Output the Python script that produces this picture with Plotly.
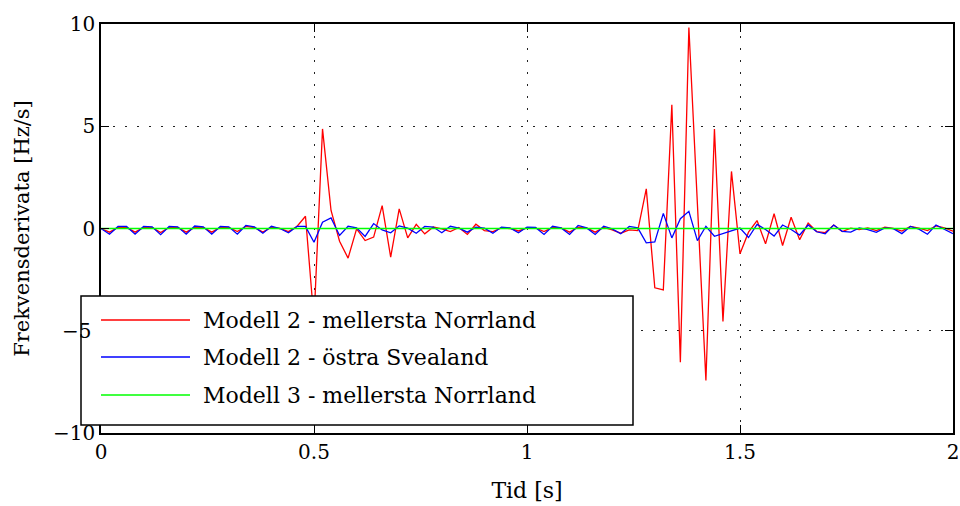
import plotly.graph_objects as go

dt = 0.02
t = [round(k * dt, 2) for k in range(101)]

red = [0, -0.18, 0.05, 0.05, -0.18, 0.05, 0.05, -0.2, 0.05, 0.05,
       -0.18, 0.05, 0.05, -0.18, 0.05, 0.05, -0.15, 0.1, 0.05, -0.18,
       0.07, 0.0, -0.15, 0.1, 0.6, -4.5, 4.87, 0.88, -0.62, -1.45,
       -0.02, -0.59, -0.42, 1.12, -1.4, 0.96, -0.46, 0.2, -0.26, 0.07,
       -0.02, -0.15, 0.05, -0.29, 0.21, -0.1, -0.15, 0.03, 0.0, -0.12,
       0.03, 0.03, -0.15, 0.05, 0.03, -0.18, 0.07, 0.03, -0.18, 0.05,
       -0.07, -0.23, -0.07, -0.1, 1.94, -2.9, -3.0, 6.05, -6.54, 9.83,
       1.2, -7.43, 4.87, -4.55, 2.79, -1.24, -0.18, 0.39, -0.75, 0.72,
       -0.83, 0.55, -0.55, 0.27, -0.15, -0.2, 0.17, -0.15, 0.02, -0.05,
       0.03, -0.1, 0.07, 0.0, -0.13, 0.1, 0.02, -0.1, 0.13, 0.03, -0.13]

blue = [0, -0.28, 0.1, 0.1, -0.28, 0.1, 0.08, -0.3, 0.1, 0.08,
        -0.28, 0.12, 0.08, -0.28, 0.1, 0.08, -0.28, 0.15, 0.08, -0.23,
        0.11, 0.0, -0.21, 0.1, 0.1, -0.67, 0.31, 0.52, -0.34, 0.11,
        0.03, -0.39, 0.24, -0.07, -0.21, 0.13, 0.02, -0.23, 0.1, 0.07,
        -0.21, 0.11, 0.02, -0.18, 0.07, 0.02, -0.23, 0.07, 0.03, -0.21,
        0.07, 0.05, -0.29, 0.11, 0.03, -0.29, 0.15, 0.03, -0.29, 0.11,
        -0.02, -0.26, 0.1, 0.03, -0.7, -0.66, 0.74, -0.46, 0.48, 0.84,
        -0.59, 0.11, -0.38, -0.24, -0.1, 0.02, -0.44, 0.2, -0.05, -0.37,
        0.17, -0.05, -0.32, 0.17, -0.16, -0.26, 0.17, -0.14, -0.18, 0.03,
        -0.05, -0.19, 0.03, -0.01, -0.25, 0.1, -0.03, -0.28, 0.17, -0.02, -0.25]

green = [0.0] * 101

names = ["Modell 2 - mellersta Norrland", "Modell 2 - östra Svealand", "Modell 3 - mellersta Norrland"]
colors = ["#ff0000", "#0000ff", "#00ff00"]
series = [red, blue, green]

x_ticks = [0, 0.5, 1, 1.5, 2]
x_labels = ["0", "0.5", "1", "1.5", "2"]
y_ticks = [-10, -5, 0, 5, 10]
y_labels = ["\u221210", "", "0", "5", "10"]   # -5 label drawn above the legend box below

FONT = "DejaVu Serif"
TICK_SIZE = 20
TEXT_SIZE = 22

fig = go.Figure()
for s, n, c in zip(series, names, colors):
    fig.add_trace(go.Scatter(x=t, y=s, mode="lines", name=n,
                             line=dict(color=c, width=1.3), showlegend=False))

# custom MATLAB-style legend (box overlaps the axes like the original)
W, H = 852.0, 409.0
def px(x):
    return (x - 101) / W
def py(y):
    return (433 - y) / H

shapes = [dict(type="rect", xref="paper", yref="paper",
               x0=px(81), x1=px(633), y0=py(425), y1=py(296),
               fillcolor="white", line=dict(color="black", width=1.5), layer="above")]
annotations = []
for i, (n, c) in enumerate(zip(names, colors)):
    yy = [320, 357, 395][i]
    shapes.append(dict(type="line", xref="paper", yref="paper",
                       x0=px(101), x1=px(190), y0=py(yy), y1=py(yy),
                       line=dict(color=c, width=1.3), layer="above"))
    annotations.append(dict(xref="paper", yref="paper", x=px(201), y=py(yy),
                            text=n, showarrow=False, xanchor="left", yanchor="middle",
                            font=dict(family=FONT, size=TEXT_SIZE, color="black")))
# the -5 tick label sits on top of the legend border in the original
annotations.append(dict(xref="paper", yref="y", x=px(60), y=-5, text="\u22125",
                        showarrow=False, xanchor="left", yanchor="middle",
                        font=dict(family=FONT, size=TICK_SIZE, color="black")))

grid = dict(showgrid=True, gridcolor="#222222", griddash="1.5px,10.5px", gridwidth=1)

fig.update_layout(
    width=960, height=506,
    margin=dict(l=101, r=7, t=24, b=73),
    paper_bgcolor="white", plot_bgcolor="white",
    font=dict(family=FONT, size=TICK_SIZE, color="black"),
    shapes=shapes, annotations=annotations,
    xaxis=dict(range=[0, 2], tickvals=x_ticks, ticktext=x_labels, automargin=False,
               showline=True, linecolor="black", linewidth=1.5, mirror="allticks",
               ticks="inside", ticklen=8, tickcolor="black", **grid,
               zeroline=False, tickfont=dict(size=TICK_SIZE),
               title=dict(text="Tid [s]", standoff=20, font=dict(family=FONT, size=TEXT_SIZE))),
    yaxis=dict(range=[-10, 10], tickvals=y_ticks, ticktext=y_labels, automargin=False,
               showline=True, linecolor="black", linewidth=1.5, mirror="allticks",
               ticks="inside", ticklen=8, tickcolor="black", **grid,
               zeroline=False, tickfont=dict(size=TICK_SIZE),
               title=dict(text="Frekvensderivata [Hz/s]", standoff=18, font=dict(family=FONT, size=21))),
)

fig.write_html("out.html")
